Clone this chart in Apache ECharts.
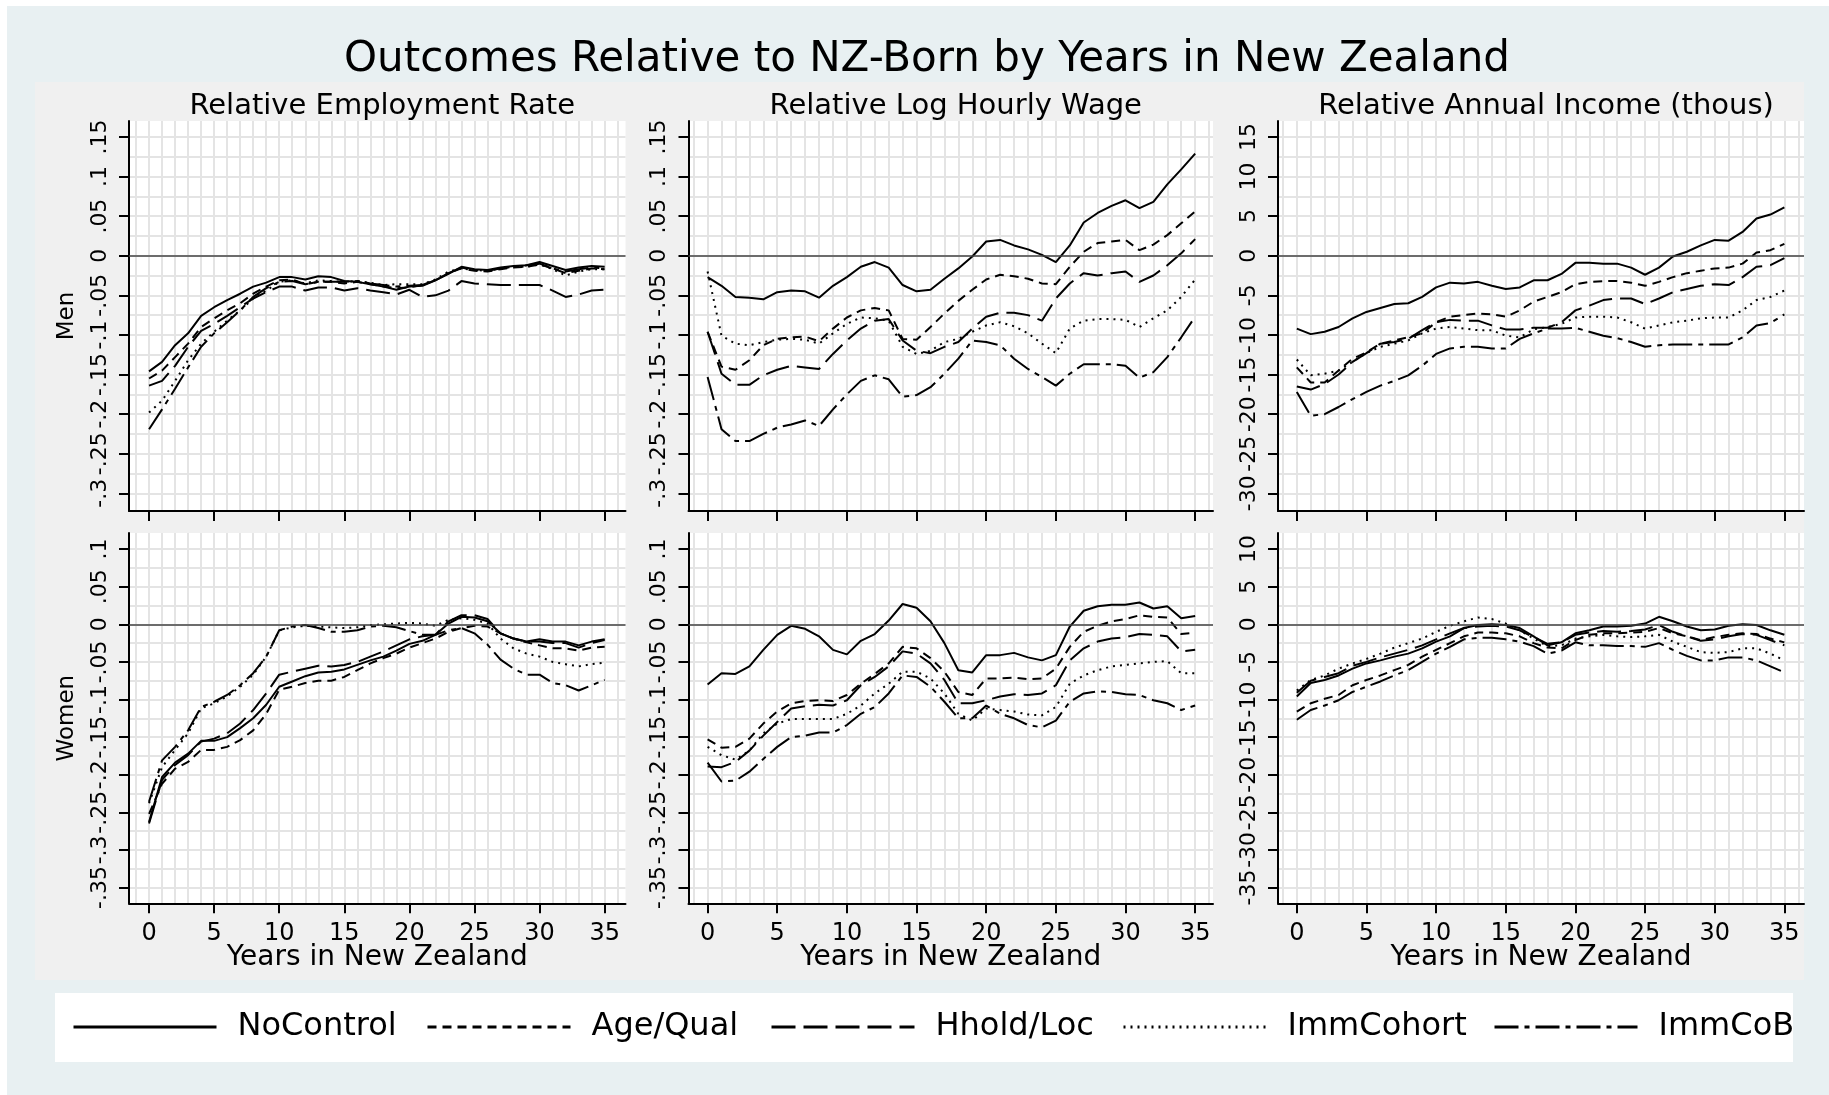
<!DOCTYPE html>
<html>
<head>
<meta charset="utf-8">
<title>Outcomes Relative to NZ-Born by Years in New Zealand</title>
<script src="https://cdn.jsdelivr.net/npm/echarts@6/dist/echarts.min.js"></script>
<style>
html, body { margin: 0; padding: 0; background: #fff; }
#main { width: 1829px; height: 1095px; }
</style>
</head>
<body>
<div id="main"></div>
<script>
// years since arrival
var years = [0,1,2,3,4,5,6,7,8,9,10,11,12,13,14,15,16,17,18,19,20,21,22,23,24,25,26,27,28,29,30,31,32,33,34,35];

// tick labels
var yearTicks = [0,5,10,15,20,25,30,35];
var rateTicksMen = [-0.3,-0.25,-0.2,-0.15,-0.1,-0.05,0,0.05,0.1,0.15];
var rateTicksWomen = [-0.35,-0.3,-0.25,-0.2,-0.15,-0.1,-0.05,0,0.05,0.1];
var incTicksMen = [-30,-25,-20,-15,-10,-5,0,5,10,15];
var incTicksWomen = [-35,-30,-25,-20,-15,-10,-5,0,5,10];

var seriesNames = ['NoControl','Age/Qual','Hhold/Loc','ImmCohort','ImmCoB'];

// Men - employment rate
var empMenNoCtrl = [-0.146,-0.134,-0.113,-0.098,-0.076,-0.065,-0.056,-0.048,-0.039,-0.034,-0.027,-0.027,-0.030,-0.026,-0.027,-0.032,-0.033,-0.036,-0.039,-0.043,-0.039,-0.038,-0.031,-0.023,-0.014,-0.017,-0.018,-0.015,-0.013,-0.012,-0.008,-0.013,-0.018,-0.015,-0.013,-0.014];
var empMenAgeQual = [-0.155,-0.145,-0.128,-0.111,-0.090,-0.079,-0.069,-0.060,-0.048,-0.039,-0.031,-0.030,-0.036,-0.033,-0.033,-0.035,-0.033,-0.036,-0.039,-0.041,-0.040,-0.037,-0.031,-0.022,-0.016,-0.019,-0.020,-0.017,-0.015,-0.014,-0.011,-0.016,-0.022,-0.019,-0.016,-0.017];
var empMenHhold = [-0.164,-0.158,-0.139,-0.115,-0.095,-0.086,-0.076,-0.065,-0.054,-0.046,-0.039,-0.039,-0.044,-0.040,-0.040,-0.044,-0.041,-0.044,-0.046,-0.049,-0.043,-0.052,-0.050,-0.044,-0.032,-0.035,-0.036,-0.037,-0.037,-0.037,-0.037,-0.044,-0.052,-0.049,-0.044,-0.043];
var empMenCohort = [-0.198,-0.183,-0.158,-0.132,-0.111,-0.096,-0.082,-0.069,-0.054,-0.044,-0.033,-0.031,-0.035,-0.031,-0.032,-0.033,-0.032,-0.034,-0.037,-0.036,-0.036,-0.036,-0.030,-0.020,-0.016,-0.018,-0.019,-0.016,-0.014,-0.014,-0.011,-0.017,-0.025,-0.020,-0.017,-0.017];
var empMenCoB = [-0.219,-0.194,-0.168,-0.141,-0.115,-0.098,-0.084,-0.069,-0.052,-0.041,-0.033,-0.032,-0.036,-0.033,-0.033,-0.033,-0.032,-0.035,-0.037,-0.039,-0.038,-0.037,-0.031,-0.022,-0.015,-0.018,-0.019,-0.016,-0.014,-0.012,-0.010,-0.016,-0.020,-0.017,-0.015,-0.016];

// Men - log hourly wage
var wageMenNoCtrl = [-0.027,-0.038,-0.052,-0.053,-0.055,-0.046,-0.044,-0.045,-0.053,-0.038,-0.027,-0.014,-0.008,-0.015,-0.037,-0.045,-0.043,-0.029,-0.016,-0.001,0.018,0.020,0.013,0.008,0.001,-0.008,0.013,0.042,0.054,0.063,0.070,0.060,0.068,0.090,0.109,0.129];
var wageMenAgeQual = [-0.096,-0.140,-0.144,-0.132,-0.113,-0.105,-0.103,-0.102,-0.108,-0.092,-0.078,-0.069,-0.066,-0.069,-0.105,-0.106,-0.090,-0.073,-0.057,-0.043,-0.030,-0.024,-0.026,-0.029,-0.035,-0.036,-0.014,0.005,0.016,0.018,0.020,0.007,0.014,0.026,0.041,0.056];
var wageMenHhold = [-0.096,-0.149,-0.163,-0.163,-0.151,-0.144,-0.139,-0.141,-0.143,-0.124,-0.107,-0.092,-0.082,-0.080,-0.107,-0.120,-0.123,-0.115,-0.109,-0.092,-0.077,-0.072,-0.072,-0.075,-0.082,-0.054,-0.035,-0.022,-0.025,-0.022,-0.020,-0.033,-0.025,-0.012,0.003,0.021];
var wageMenCohort = [-0.020,-0.101,-0.111,-0.113,-0.109,-0.106,-0.105,-0.106,-0.111,-0.098,-0.086,-0.078,-0.079,-0.082,-0.115,-0.124,-0.120,-0.109,-0.105,-0.096,-0.088,-0.084,-0.089,-0.098,-0.111,-0.123,-0.092,-0.082,-0.080,-0.080,-0.081,-0.090,-0.079,-0.069,-0.052,-0.030];
var wageMenCoB = [-0.153,-0.219,-0.234,-0.234,-0.225,-0.217,-0.213,-0.208,-0.215,-0.194,-0.175,-0.158,-0.151,-0.156,-0.178,-0.176,-0.166,-0.149,-0.130,-0.107,-0.109,-0.113,-0.130,-0.143,-0.153,-0.164,-0.149,-0.137,-0.137,-0.137,-0.139,-0.154,-0.147,-0.128,-0.103,-0.077];

// Men - annual income (thousands)
var incMenNoCtrl = [-9.2,-9.9,-9.6,-9.0,-7.9,-7.1,-6.6,-6.1,-6.0,-5.2,-4.0,-3.4,-3.5,-3.3,-3.8,-4.2,-4.0,-3.1,-3.1,-2.3,-0.9,-0.9,-1.0,-1.0,-1.5,-2.4,-1.5,-0.1,0.5,1.3,2.0,1.9,3.0,4.7,5.2,6.1];
var incMenAgeQual = [-14.1,-16.0,-16.0,-14.5,-13.0,-12.2,-11.1,-10.7,-10.3,-9.8,-8.4,-7.7,-7.5,-7.3,-7.4,-7.7,-6.9,-5.8,-5.2,-4.6,-3.6,-3.3,-3.2,-3.2,-3.4,-3.8,-3.3,-2.7,-2.2,-1.9,-1.6,-1.5,-1.0,0.4,0.7,1.5];
var incMenHhold = [-16.5,-16.9,-16.2,-15.0,-13.4,-12.3,-11.1,-10.9,-10.5,-9.4,-8.4,-8.1,-8.2,-8.2,-8.8,-9.3,-9.3,-9.1,-9.1,-8.4,-6.9,-6.3,-5.6,-5.4,-5.4,-6.1,-5.4,-4.6,-4.2,-3.8,-3.6,-3.7,-2.7,-1.4,-1.2,-0.3];
var incMenCohort = [-13.1,-15.1,-14.9,-14.5,-13.4,-12.3,-11.5,-11.1,-10.7,-9.8,-9.2,-9.0,-9.2,-9.4,-9.4,-10.1,-10.3,-9.3,-9.0,-8.6,-7.8,-7.7,-7.7,-7.8,-8.4,-9.2,-8.8,-8.4,-8.2,-7.9,-7.8,-7.8,-6.9,-5.6,-5.2,-4.4];
var incMenCoB = [-17.2,-20.2,-20.0,-19.1,-18.1,-17.2,-16.4,-15.8,-15.1,-13.9,-12.4,-11.7,-11.5,-11.5,-11.7,-11.7,-10.5,-9.8,-9.2,-9.2,-9.1,-9.6,-10.1,-10.4,-10.9,-11.5,-11.3,-11.2,-11.2,-11.2,-11.2,-11.2,-10.3,-8.8,-8.5,-7.4];

// Women - employment rate
var empWomNoCtrl = [-0.263,-0.203,-0.184,-0.172,-0.155,-0.155,-0.150,-0.138,-0.125,-0.107,-0.083,-0.076,-0.069,-0.064,-0.063,-0.060,-0.054,-0.048,-0.043,-0.035,-0.026,-0.022,-0.014,0.001,0.010,0.009,0.004,-0.012,-0.019,-0.023,-0.020,-0.023,-0.023,-0.028,-0.023,-0.020];
var empWomAgeQual = [-0.252,-0.212,-0.192,-0.183,-0.167,-0.167,-0.163,-0.154,-0.141,-0.119,-0.087,-0.083,-0.078,-0.075,-0.075,-0.070,-0.061,-0.052,-0.045,-0.039,-0.031,-0.025,-0.019,-0.010,-0.005,-0.002,-0.003,-0.012,-0.019,-0.024,-0.028,-0.032,-0.032,-0.035,-0.031,-0.030];
var empWomHhold = [-0.265,-0.207,-0.187,-0.174,-0.156,-0.152,-0.145,-0.132,-0.114,-0.092,-0.067,-0.063,-0.059,-0.055,-0.056,-0.054,-0.050,-0.043,-0.036,-0.028,-0.020,-0.016,-0.014,0.004,0.012,0.012,0.007,-0.012,-0.019,-0.023,-0.023,-0.025,-0.025,-0.031,-0.025,-0.021];
var empWomCohort = [-0.238,-0.190,-0.167,-0.145,-0.112,-0.105,-0.096,-0.083,-0.067,-0.043,-0.008,-0.004,-0.002,-0.003,-0.004,-0.005,-0.004,-0.001,0.000,0.001,0.002,0.001,-0.002,0.006,0.008,0.006,0.001,-0.019,-0.032,-0.039,-0.043,-0.050,-0.053,-0.056,-0.053,-0.051];
var empWomCoB = [-0.236,-0.181,-0.163,-0.141,-0.110,-0.103,-0.094,-0.081,-0.065,-0.043,-0.008,-0.003,-0.001,-0.005,-0.010,-0.010,-0.008,-0.003,-0.002,-0.004,-0.009,-0.014,-0.014,-0.008,-0.005,-0.012,-0.027,-0.047,-0.059,-0.067,-0.067,-0.078,-0.081,-0.088,-0.081,-0.074];

// Women - log hourly wage
var wageWomNoCtrl = [-0.080,-0.065,-0.066,-0.056,-0.034,-0.014,-0.002,-0.006,-0.016,-0.034,-0.040,-0.022,-0.013,0.005,0.027,0.022,0.004,-0.025,-0.061,-0.064,-0.041,-0.041,-0.038,-0.044,-0.048,-0.041,-0.003,0.018,0.024,0.026,0.026,0.029,0.021,0.024,0.008,0.011];
var wageWomAgeQual = [-0.153,-0.164,-0.163,-0.152,-0.132,-0.116,-0.105,-0.102,-0.101,-0.102,-0.094,-0.079,-0.066,-0.052,-0.030,-0.032,-0.045,-0.063,-0.090,-0.094,-0.072,-0.072,-0.071,-0.073,-0.072,-0.059,-0.030,-0.010,-0.002,0.004,0.007,0.012,0.010,0.009,-0.013,-0.011];
var wageWomHhold = [-0.189,-0.190,-0.183,-0.168,-0.148,-0.130,-0.112,-0.109,-0.107,-0.108,-0.101,-0.081,-0.070,-0.056,-0.036,-0.039,-0.052,-0.074,-0.105,-0.105,-0.101,-0.096,-0.093,-0.094,-0.092,-0.081,-0.048,-0.032,-0.023,-0.019,-0.017,-0.013,-0.014,-0.016,-0.036,-0.034];
var wageWomCohort = [-0.163,-0.174,-0.180,-0.168,-0.145,-0.132,-0.126,-0.126,-0.126,-0.126,-0.119,-0.108,-0.092,-0.079,-0.063,-0.063,-0.072,-0.092,-0.119,-0.128,-0.112,-0.114,-0.116,-0.120,-0.121,-0.110,-0.079,-0.068,-0.061,-0.056,-0.054,-0.052,-0.050,-0.049,-0.065,-0.065];
var wageWomCoB = [-0.184,-0.209,-0.208,-0.196,-0.179,-0.163,-0.150,-0.148,-0.144,-0.144,-0.134,-0.119,-0.110,-0.092,-0.068,-0.070,-0.083,-0.103,-0.125,-0.125,-0.108,-0.119,-0.125,-0.134,-0.137,-0.128,-0.103,-0.092,-0.089,-0.090,-0.093,-0.094,-0.101,-0.105,-0.114,-0.108];

// Women - annual income (thousands)
var incWomNoCtrl = [-9.6,-7.8,-7.4,-6.8,-5.9,-5.2,-4.8,-4.3,-3.9,-3.2,-2.3,-1.6,-0.5,-0.1,0.0,-0.1,-0.5,-1.6,-2.8,-2.4,-1.2,-0.8,-0.3,-0.3,-0.2,0.1,1.0,0.4,-0.3,-0.8,-0.7,-0.2,0.0,-0.1,-0.8,-1.4];
var incWomAgeQual = [-11.6,-10.5,-9.9,-9.4,-8.1,-7.4,-6.8,-6.1,-5.4,-4.3,-3.4,-2.5,-1.6,-1.1,-1.1,-1.2,-1.6,-2.5,-3.1,-3.2,-2.1,-1.4,-1.2,-1.2,-1.1,-1.0,-0.5,-1.2,-1.6,-2.1,-1.7,-1.4,-1.2,-1.3,-1.9,-2.4];
var incWomHhold = [-9.1,-7.5,-7.0,-6.5,-5.5,-5.0,-4.4,-3.9,-3.4,-2.8,-2.0,-1.2,-0.5,-0.3,-0.2,-0.3,-0.8,-1.7,-2.6,-2.4,-1.4,-1.1,-0.9,-1.0,-0.9,-0.7,-0.1,-1.0,-1.6,-2.2,-2.0,-1.6,-1.3,-1.4,-2.1,-2.8];
var incWomCohort = [-8.8,-7.4,-6.8,-5.9,-5.2,-4.6,-3.9,-3.1,-2.5,-1.9,-1.0,-0.2,0.4,0.9,0.7,0.1,-0.8,-1.9,-2.9,-2.8,-1.9,-1.6,-1.4,-1.6,-1.7,-1.6,-1.4,-2.3,-3.0,-3.7,-3.8,-3.7,-3.2,-3.2,-3.9,-4.8];
var incWomCoB = [-12.7,-11.4,-10.8,-10.1,-9.0,-8.3,-7.6,-6.8,-6.1,-5.0,-3.9,-3.0,-2.0,-1.8,-1.8,-2.0,-2.3,-2.9,-3.9,-3.5,-2.4,-2.8,-2.8,-2.9,-2.9,-3.0,-2.5,-3.4,-4.2,-4.8,-4.8,-4.4,-4.4,-4.8,-5.6,-6.4];

var FONT = 'DejaVu Sans';
var GRIDC = '#E4E4E4';
var dashTypes = ['solid', [9, 6], [24, 8], [2, 5], [24, 6, 5, 6]];

// layout of the six panels (pixels)
var panels = [
  {title: 'Relative Employment Rate', left: 129, top: 121, width: 496.5, height: 390, xr: [-1.54, 36.6], yr: [-0.3223, 0.1701], ticks: rateTicksMen, minor: 0.025, row: 'Men', bottom: false,
   lines: [empMenNoCtrl, empMenAgeQual, empMenHhold, empMenCohort, empMenCoB]},
  {title: 'Relative Log Hourly Wage', left: 688.5, top: 121, width: 524.5, height: 390, xr: [-1.37, 36.28], yr: [-0.3223, 0.1701], ticks: rateTicksMen, minor: 0.025, bottom: false,
   lines: [wageMenNoCtrl, wageMenAgeQual, wageMenHhold, wageMenCohort, wageMenCoB]},
  {title: 'Relative Annual Income (thous)', left: 1278, top: 121, width: 526, height: 390, xr: [-1.35, 36.41], yr: [-32.23, 17.01], ticks: incTicksMen, minor: 2.5, bottom: false,
   lines: [incMenNoCtrl, incMenAgeQual, incMenHhold, incMenCohort, incMenCoB]},
  {left: 129, top: 533, width: 496.5, height: 370.3, xr: [-1.54, 36.6], yr: [-0.371, 0.1214], ticks: rateTicksWomen, minor: 0.025, row: 'Women', bottom: true,
   lines: [empWomNoCtrl, empWomAgeQual, empWomHhold, empWomCohort, empWomCoB]},
  {left: 688.5, top: 533, width: 524.5, height: 370.3, xr: [-1.37, 36.28], yr: [-0.371, 0.1214], ticks: rateTicksWomen, minor: 0.025, bottom: true,
   lines: [wageWomNoCtrl, wageWomAgeQual, wageWomHhold, wageWomCohort, wageWomCoB]},
  {left: 1278, top: 533, width: 526, height: 370.3, xr: [-1.35, 36.41], yr: [-37.1, 12.14], ticks: incTicksWomen, minor: 2.5, bottom: true,
   lines: [incWomNoCtrl, incWomAgeQual, incWomHhold, incWomCohort, incWomCoB]}
];

// grid line positions inside [a, b]
function stepsIn(a, b, s) {
  var out = [];
  var v = Math.ceil(a / s - 1e-9) * s;
  while (v <= b + 1e-9) { out.push(Math.round(v * 1000) / 1000); v += s; }
  return out;
}

// Stata style: .05, -.1, 0
function stataLabel(v) {
  var s = String(Math.round(v * 1000) / 1000);
  return s.replace(/^(-?)0\./, '$1.');
}

var grids = [], xAxes = [], yAxes = [], series = [];
var titles = [{
  text: 'Outcomes Relative to NZ-Born by Years in New Zealand',
  left: 922, top: 34, textAlign: 'center',
  textStyle: {fontFamily: FONT, fontSize: 42, fontWeight: 'normal', color: '#000'}
}];

panels.forEach(function (p, i) {
  grids.push({left: p.left, top: p.top, width: p.width, height: p.height,
    show: true, backgroundColor: '#fff', borderWidth: 0, containLabel: false});

  if (p.title) {
    titles.push({text: p.title, left: p.left + p.width / 2, top: 87, textAlign: 'center',
      textStyle: {fontFamily: FONT, fontSize: 29, fontWeight: 'normal', color: '#000'}});
  }

  // grid line axes (no marks)
  xAxes.push({type: 'value', gridIndex: i, position: 'bottom', min: p.xr[0], max: p.xr[1],
    axisLine: {show: false}, axisLabel: {show: false},
    axisTick: {show: true, length: 0, customValues: stepsIn(p.xr[0], p.xr[1], 1), lineStyle: {opacity: 0}},
    splitLine: {show: true, lineStyle: {color: GRIDC, width: 2}}});
  yAxes.push({type: 'value', gridIndex: i, position: 'left', min: p.yr[0], max: p.yr[1],
    axisLine: {show: false}, axisLabel: {show: false},
    axisTick: {show: true, length: 0, customValues: stepsIn(p.yr[0], p.yr[1], p.minor), lineStyle: {opacity: 0}},
    splitLine: {show: true, lineStyle: {color: GRIDC, width: 2}}});

  // main axes
  xAxes.push({type: 'value', gridIndex: i, position: 'bottom', min: p.xr[0], max: p.xr[1],
    axisLine: {show: true, onZero: false, lineStyle: {color: '#000', width: 2}},
    axisTick: {show: true, length: 10, customValues: yearTicks, lineStyle: {color: '#000', width: 2}},
    axisLabel: {show: p.bottom, customValues: yearTicks, margin: 18, fontFamily: FONT, fontSize: 24, color: '#000'},
    splitLine: {show: false},
    name: p.bottom ? 'Years in New Zealand' : '', nameLocation: 'middle', nameGap: 40, nameMoveOverlap: false,
    nameTextStyle: {fontFamily: FONT, fontSize: 28, color: '#000'}});
  yAxes.push({type: 'value', gridIndex: i, position: 'left', min: p.yr[0], max: p.yr[1],
    axisLine: {show: true, onZero: false, lineStyle: {color: '#000', width: 2}},
    axisTick: {show: true, length: 10, customValues: p.ticks, lineStyle: {color: '#000', width: 2}},
    axisLabel: {show: true, customValues: p.ticks, rotate: 90, margin: 18, fontFamily: FONT, fontSize: 22, color: '#000',
      formatter: stataLabel},
    splitLine: {show: false},
    name: p.row || '', nameLocation: 'middle', nameRotate: 90, nameGap: 50, nameMoveOverlap: false,
    nameTextStyle: {fontFamily: FONT, fontSize: 23, color: '#000'}});

  p.lines.forEach(function (arr, s) {
    var ser = {
      type: 'line', name: seriesNames[s],
      xAxisIndex: 2 * i + 1, yAxisIndex: 2 * i + 1,
      data: years.map(function (y, k) { return [y, arr[k]]; }),
      symbol: 'none', silent: true, animation: false, z: 3,
      lineStyle: {color: '#000', width: 2, type: dashTypes[s]},
      itemStyle: {color: '#000'}
    };
    if (s === 0) {
      ser.markLine = {silent: true, symbol: 'none', label: {show: false}, animation: false,
        lineStyle: {color: '#444', width: 1.5, type: 'solid'}, data: [{yAxis: 0}]};
    }
    series.push(ser);
  });
});

var legendLeft = [72, 426, 770, 1122, 1493];
var legends = seriesNames.map(function (n, i) {
  return {data: [n], left: legendLeft[i], top: 1011, orient: 'horizontal', padding: 0,
    itemWidth: 143, itemHeight: 10, selectedMode: false,
    lineStyle: {width: 3}, itemStyle: {opacity: 0},
    textStyle: {fontFamily: FONT, fontSize: 32, color: '#000', padding: [0, 0, 0, 16]}};
});

var option = {
  backgroundColor: '#fff',
  animation: false,
  title: titles,
  legend: legends,
  graphic: [
    {type: 'rect', z: -30, shape: {x: 7, y: 6, width: 1822, height: 1089}, style: {fill: '#E8F0F2'}, silent: true},
    {type: 'rect', z: -20, shape: {x: 35, y: 82, width: 1769, height: 898}, style: {fill: '#F0F0F0'}, silent: true},
    {type: 'rect', z: -20, shape: {x: 55, y: 993, width: 1738, height: 69}, style: {fill: '#fff'}, silent: true}
  ],
  grid: grids,
  xAxis: xAxes,
  yAxis: yAxes,
  series: series
};

var myChart = echarts.init(document.getElementById('main'));
myChart.setOption(option);
</script>
</body>
</html>
